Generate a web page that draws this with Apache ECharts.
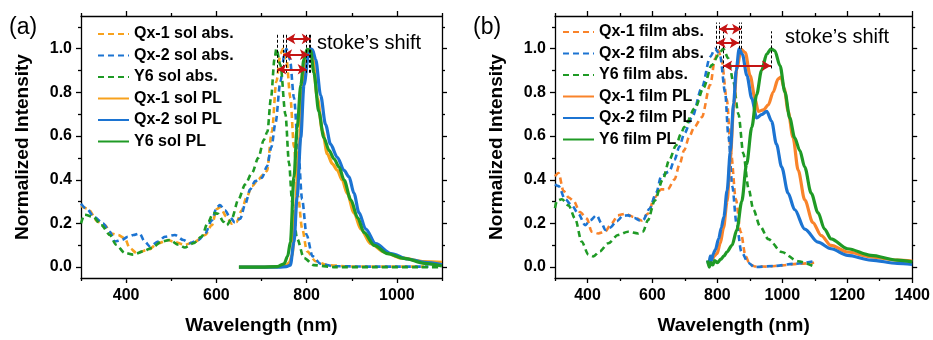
<!DOCTYPE html>
<html><head><meta charset="utf-8">
<script src="https://cdn.jsdelivr.net/npm/echarts@6/dist/echarts.min.js"></script>
<style>html,body{margin:0;padding:0;background:#fff}#c{width:933px;height:340px}</style>
</head><body><div id="c"></div>
<script>
// ---------------- DATA ----------------
const solSeriesNames = ['Qx-1 sol abs.', 'Qx-2 sol abs.', 'Y6 sol abs.', 'Qx-1 sol PL', 'Qx-2 sol PL', 'Y6 sol PL'];
const filmSeriesNames = ['Qx-1 film abs.', 'Qx-2 film abs.', 'Y6 film abs.', 'Qx-1 film PL', 'Qx-2 film PL', 'Y6 film PL'];

// (a) solution
const qx1SolAbsNm = [300,315,338,353,367,382,397,408,423,449,471,493,508,530,553,575,590,601,608,623,634,645,656,667,679,693,704,712,723,733,742,748,755,764,772,781,790,801,820,846,897,950,1000,1060];
const qx1SolAbs   = [0.28,0.267,0.207,0.192,0.154,0.147,0.132,0.087,0.065,0.079,0.109,0.124,0.114,0.102,0.117,0.147,0.192,0.266,0.274,0.229,0.199,0.207,0.26,0.32,0.371,0.401,0.424,0.44,0.62,0.85,0.978,1.0,0.955,0.775,0.55,0.326,0.177,0.072,0.027,0.009,0.003,0.002,0.002,0.002];
const qx2SolAbsNm = [300,312,330,349,364,375,390,404,416,430,441,453,471,486,508,527,541,560,575,590,601,608,619,630,641,653,664,675,686,701,712,722,731,742,751,755,763,772,781,790,800,813,831,860,950,1000,1070];
const qx2SolAbs   = [0.29,0.267,0.229,0.199,0.162,0.117,0.124,0.139,0.147,0.154,0.117,0.094,0.117,0.139,0.147,0.124,0.109,0.124,0.154,0.214,0.274,0.284,0.26,0.229,0.204,0.222,0.289,0.356,0.394,0.409,0.461,0.55,0.66,0.85,0.978,1.0,0.95,0.775,0.55,0.31,0.147,0.05,0.015,0.004,0.002,0.002,0.002];
const y6SolAbsNm  = [300,308,327,345,364,378,397,416,438,456,479,497,516,530,549,567,582,593,604,616,623,634,649,664,679,693,705,713,721,729,733,742,753,761,768,779,794,816,860,950,1050,1100];
const y6SolAbs    = [0.2,0.24,0.23,0.192,0.147,0.102,0.065,0.057,0.072,0.087,0.117,0.124,0.102,0.09,0.109,0.139,0.207,0.248,0.244,0.207,0.192,0.222,0.311,0.379,0.432,0.5,0.582,0.62,0.775,0.955,1.0,0.925,0.70,0.476,0.296,0.13,0.042,0.009,0.0,0.0,0.0,0.0];
const qx1SolPLNm  = [650,700,740,755,762,768,775,783,790,798,805,813,824,835,846,857,868,879,890,905,920,942,972,1009,1061,1100];
const qx1SolPL    = [0,0,0.002,0.008,0.02,0.054,0.263,0.533,0.787,0.952,0.997,0.967,0.772,0.623,0.518,0.473,0.443,0.398,0.338,0.249,0.174,0.107,0.069,0.042,0.025,0.022];
const qx2SolPLNm  = [650,700,740,755,764,772,779,787,794,805,809,813,820,831,842,853,868,883,894,905,916,931,953,987,1024,1061,1100];
const qx2SolPL    = [0,0,0,0.002,0.009,0.114,0.323,0.593,0.832,0.982,1.0,0.995,0.952,0.787,0.653,0.563,0.503,0.443,0.413,0.338,0.249,0.174,0.107,0.062,0.037,0.022,0.012];
const y6SolPLNm   = [650,700,735,750,758,764,772,779,787,794,801,809,816,827,838,850,861,872,883,898,913,927,950,979,1016,1061,1100];
const y6SolPL     = [0,0,0.002,0.015,0.05,0.114,0.413,0.638,0.832,0.952,0.997,0.99,0.89,0.712,0.593,0.533,0.495,0.458,0.398,0.308,0.226,0.159,0.099,0.062,0.04,0.017,0.005];

// (b) film
const qx1FilmAbsNm = [300,311,326,342,357,377,398,413,433,454,474,494,515,545,566,586,607,627,647,668,683,698,713,729,752,778,793,803,813,829,842,857,872,887,900,915,956,1000,1050,1098];
const qx1FilmAbs   = [0.416,0.431,0.349,0.319,0.304,0.252,0.222,0.162,0.154,0.162,0.199,0.237,0.244,0.229,0.214,0.244,0.319,0.356,0.356,0.401,0.468,0.536,0.596,0.641,0.686,0.835,0.955,0.993,0.95,0.77,0.52,0.31,0.16,0.05,0.012,0.003,0.002,0.008,0.015,0.02];
const qx2FilmAbsNm = [300,311,331,352,372,393,408,428,444,455,469,490,510,525,545,560,571,591,612,627,652,668,683,698,722,752,778,793,804,808,824,834,846,859,874,895,914,975,1036,1098];
const qx2FilmAbs   = [0.379,0.371,0.311,0.282,0.244,0.192,0.214,0.237,0.199,0.17,0.18,0.21,0.235,0.237,0.225,0.214,0.214,0.267,0.341,0.416,0.438,0.491,0.551,0.611,0.686,0.82,0.963,1.0,0.982,0.97,0.8,0.6,0.37,0.2,0.07,0.02,0.0,0.005,0.015,0.027];
const y6FilmAbsNm  = [300,306,321,342,362,382,403,418,438,464,494,525,556,571,586,607,632,652,673,688,698,732,757,783,803,818,834,849,865,880,896,911,931,957,998,1048,1099];
const y6FilmAbs    = [0.27,0.304,0.311,0.282,0.222,0.117,0.057,0.049,0.072,0.109,0.147,0.162,0.154,0.162,0.214,0.304,0.401,0.491,0.558,0.611,0.641,0.73,0.82,0.925,0.97,1.0,0.955,0.85,0.7,0.52,0.36,0.263,0.188,0.128,0.069,0.027,0.002];
const qx1FilmPLNm  = [775,779,784,790,799,809,819,830,840,850,860,873,886,901,916,926,942,957,972,987,996,1006,1018,1033,1049,1069,1094,1120,1150,1201,1273,1354,1400];
const qx1FilmPL    = [0.02,0.04,0.032,0.05,0.062,0.11,0.18,0.3,0.5,0.73,0.91,0.997,0.982,0.877,0.772,0.713,0.72,0.743,0.802,0.862,0.87,0.817,0.713,0.593,0.443,0.308,0.204,0.144,0.099,0.069,0.047,0.032,0.027];
const qx2FilmPLNm  = [770,774,778,782,787,794,804,812,820,830,840,850,858,867,877,891,906,921,936,952,967,982,998,1018,1038,1069,1110,1150,1201,1273,1354,1400];
const qx2FilmPL    = [0.03,0.01,0.05,0.03,0.06,0.08,0.13,0.18,0.23,0.35,0.53,0.75,0.9,1.0,0.974,0.877,0.772,0.683,0.698,0.713,0.668,0.563,0.458,0.338,0.263,0.174,0.114,0.084,0.054,0.032,0.017,0.012];
const y6FilmPLNm   = [770,775,780,786,792,800,810,820,830,845,860,875,890,906,921,936,952,965,977,993,1008,1023,1038,1054,1069,1089,1110,1130,1150,1201,1273,1354,1400];
const y6FilmPL     = [0.03,0.0,0.02,0.01,0.03,0.02,0.035,0.05,0.07,0.1,0.17,0.3,0.47,0.64,0.79,0.9,0.975,1.0,0.99,0.922,0.802,0.683,0.593,0.533,0.458,0.338,0.249,0.174,0.129,0.084,0.054,0.032,0.024];

// axis ticks
const solXMajor = [400, 600, 800, 1000];
const solXMinor = [300, 500, 700, 900, 1100];
const filmXMajor = [400, 600, 800, 1000, 1200, 1400];
const filmXMinor = [300, 500, 700, 900, 1100, 1300];
const yMajor = [0, 0.2, 0.4, 0.6, 0.8, 1.0];
const yMinor = [0.1, 0.3, 0.5, 0.7, 0.9, 1.1];

// stokes-shift annotations: [absPeak, plPeak, arrowLevel]
const solAbsPeaks = [748, 755, 735];
const solPLPeaks  = [805, 809, 800];
const solArrowY   = [0.973, 1.045, 0.906];
const filmAbsPeaks = [805, 798, 818];
const filmPLPeaks  = [873, 866, 965];
const filmArrowY   = [1.09, 1.027, 0.922];

// ---------------- CHART ----------------
const FONT = '"Liberation Sans", Arial, Helvetica, sans-serif';
const ORANGE_SOL = '#F7A11D', ORANGE_FILM = '#F9832A', BLUE = '#1C74D2', GREEN = '#1F9A25';
const zip = (a, b) => a.map((x, i) => [x, b[i]]);

const grids = [
  {left: 81, top: 16, width: 361, height: 268},
  {left: 555, top: 16, width: 360, height: 268}
];
const xRanges = [[300, 1100], [300, 1400]];
const xMajors = [solXMajor, filmXMajor];
const xMinors = [solXMinor, filmXMinor];

const xAxes = [], yAxes = [];
const lineSt = {color: '#000', width: 1.3};
for (let g = 0; g < 2; g++) {
  const base = {type: 'value', gridIndex: g, min: xRanges[g][0], max: xRanges[g][1], splitLine: {show: false}};
  xAxes.push(Object.assign({}, base, {position: 'bottom',
    axisLine: {show: true, onZero: false, lineStyle: lineSt},
    axisTick: {show: true, customValues: xMajors[g], length: 5, lineStyle: lineSt},
    axisLabel: {show: true, customValues: xMajors[g], formatter: v => String(v), fontFamily: FONT, fontWeight: 'bold', fontSize: 16, color: '#000', margin: 10},
    name: 'Wavelength (nm)', nameLocation: 'middle', nameGap: 38,
    nameTextStyle: {fontFamily: FONT, fontWeight: 'bold', fontSize: 19, color: '#000'}}));
  xAxes.push(Object.assign({}, base, {position: 'bottom',
    axisLine: {show: false, onZero: false},
    axisTick: {show: true, customValues: xMinors[g], length: 3, lineStyle: lineSt},
    axisLabel: {show: false}}));
  xAxes.push(Object.assign({}, base, {position: 'top',
    axisLine: {show: true, onZero: false, lineStyle: lineSt},
    axisTick: {show: true, customValues: xMajors[g], length: 5, lineStyle: lineSt},
    axisLabel: {show: false}}));
  xAxes.push(Object.assign({}, base, {position: 'top',
    axisLine: {show: false, onZero: false},
    axisTick: {show: true, customValues: xMinors[g], length: 3, lineStyle: lineSt},
    axisLabel: {show: false}}));

  const ybase = {type: 'value', gridIndex: g, min: -0.05, max: 1.15, splitLine: {show: false}};
  yAxes.push(Object.assign({}, ybase, {position: 'left',
    axisLine: {show: true, onZero: false, lineStyle: lineSt},
    axisTick: {show: true, customValues: yMajor, length: 5, lineStyle: lineSt},
    axisLabel: {show: true, customValues: yMajor, formatter: v => v.toFixed(1), fontFamily: FONT, fontWeight: 'bold', fontSize: 16, color: '#000', margin: 9},
    name: 'Normalized Intensity', nameLocation: 'middle', nameGap: 49, nameRotate: 90,
    nameTextStyle: {fontFamily: FONT, fontWeight: 'bold', fontSize: 19, color: '#000'}}));
  yAxes.push(Object.assign({}, ybase, {position: 'left',
    axisLine: {show: false, onZero: false},
    axisTick: {show: true, customValues: yMinor, length: 3, lineStyle: lineSt},
    axisLabel: {show: false}}));
  yAxes.push(Object.assign({}, ybase, {position: 'right',
    axisLine: {show: true, onZero: false, lineStyle: lineSt},
    axisTick: {show: true, customValues: yMajor, length: 5, lineStyle: lineSt},
    axisLabel: {show: false}}));
  yAxes.push(Object.assign({}, ybase, {position: 'right',
    axisLine: {show: false, onZero: false},
    axisTick: {show: true, customValues: yMinor, length: 3, lineStyle: lineSt},
    axisLabel: {show: false}}));
}

function annot(absP, plP, arrY, lo, hi) {
  const d = [];
  const dash = {color: '#000', width: 1, type: [3, 2]};
  for (let i = 0; i < absP.length; i++) {
    d.push([{coord: [absP[i], lo[i]], symbol: 'none', lineStyle: dash}, {coord: [absP[i], hi[i]], symbol: 'none'}]);
    d.push([{coord: [plP[i], lo[i]], symbol: 'none', lineStyle: dash}, {coord: [plP[i], hi[i]], symbol: 'none'}]);
  }
  for (let i = 0; i < absP.length; i++) {
    d.push([{coord: [absP[i], arrY[i]], symbol: 'arrow', symbolSize: [8, 9], lineStyle: {color: '#C41414', width: 2, type: 'solid'}},
            {coord: [plP[i], arrY[i]], symbol: 'arrow', symbolSize: [8, 9]}]);
  }
  return {silent: true, animation: false, label: {show: false}, emphasis: {disabled: true}, data: d};
}

function mk(name, g, nm, val, color, dashed, markLine) {
  const s = {
    name, type: 'line', xAxisIndex: g * 4, yAxisIndex: g * 4,
    data: zip(nm, val), symbol: 'none', showSymbol: false, smooth: 0.3, smoothMonotone: 'x',
    lineStyle: {color, width: dashed ? 2.6 : 3.2, type: dashed ? [6, 4] : 'solid'},
    itemStyle: {color}, animation: false, z: dashed ? 2 : 3
  };
  if (markLine) s.markLine = markLine;
  return s;
}

const series = [
  mk(solSeriesNames[0], 0, qx1SolAbsNm, qx1SolAbs, ORANGE_SOL, true,
     annot(solAbsPeaks, solPLPeaks, solArrowY, [0.89, 0.89, 0.89], [1.07, 1.07, 1.07])),
  mk(solSeriesNames[1], 0, qx2SolAbsNm, qx2SolAbs, BLUE, true),
  mk(solSeriesNames[2], 0, y6SolAbsNm, y6SolAbs, GREEN, true),
  mk(solSeriesNames[3], 0, qx1SolPLNm, qx1SolPL, ORANGE_SOL, false),
  mk(solSeriesNames[4], 0, qx2SolPLNm, qx2SolPL, BLUE, false),
  mk(solSeriesNames[5], 0, y6SolPLNm, y6SolPL, GREEN, false),
  mk(filmSeriesNames[0], 1, qx1FilmAbsNm, qx1FilmAbs, ORANGE_FILM, true,
     annot(filmAbsPeaks, filmPLPeaks, filmArrowY, [1.0, 1.0, 0.91], [1.12, 1.12, 1.08])),
  mk(filmSeriesNames[1], 1, qx2FilmAbsNm, qx2FilmAbs, BLUE, true),
  mk(filmSeriesNames[2], 1, y6FilmAbsNm, y6FilmAbs, GREEN, true),
  mk(filmSeriesNames[3], 1, qx1FilmPLNm, qx1FilmPL, ORANGE_FILM, false),
  mk(filmSeriesNames[4], 1, qx2FilmPLNm, qx2FilmPL, BLUE, false),
  mk(filmSeriesNames[5], 1, y6FilmPLNm, y6FilmPL, GREEN, false)
];

const legendBase = {orient: 'vertical', itemWidth: 31, itemHeight: 14, itemGap: 5.5, selectedMode: false,
  itemStyle: {opacity: 0, borderWidth: 0},
  textStyle: {fontFamily: FONT, fontWeight: 'bold', fontSize: 16, color: '#000', lineHeight: 16}};

const chart = echarts.init(document.getElementById('c'), null, {renderer: 'canvas'});
chart.setOption({
  backgroundColor: '#fff',
  animation: false,
  grid: grids,
  xAxis: xAxes,
  yAxis: yAxes,
  legend: [
    Object.assign({}, legendBase, {data: solSeriesNames, left: 92, top: 21}),
    Object.assign({}, legendBase, {data: filmSeriesNames, left: 557, top: 19})
  ],
  graphic: [
    {type: 'text', x: 9, y: 28, style: {text: '(a)', fontFamily: FONT, fontSize: 23, fill: '#000', verticalAlign: 'middle'}},
    {type: 'text', x: 473, y: 28, style: {text: '(b)', fontFamily: FONT, fontSize: 23, fill: '#000', verticalAlign: 'middle'}},
    {type: 'text', x: 317, y: 43, style: {text: 'stoke\u2019s shift', fontFamily: FONT, fontSize: 20, fill: '#000', verticalAlign: 'middle'}},
    {type: 'text', x: 785, y: 37, style: {text: 'stoke\u2019s shift', fontFamily: FONT, fontSize: 20, fill: '#000', verticalAlign: 'middle'}}
  ],
  series
});
</script>
</body></html>
